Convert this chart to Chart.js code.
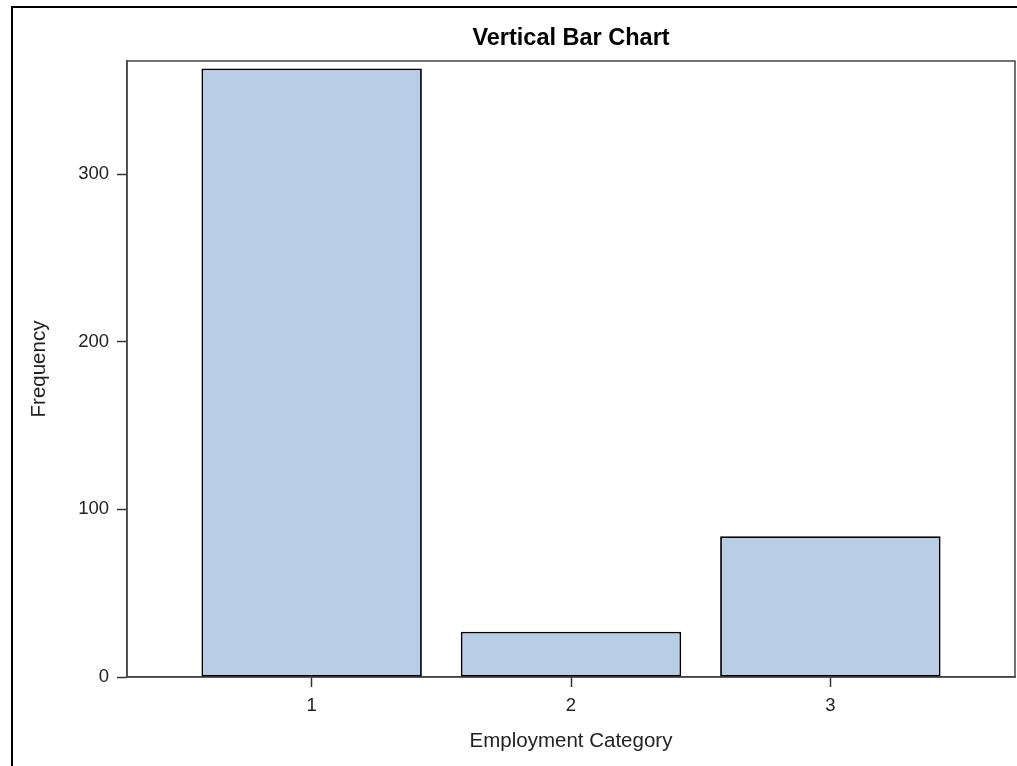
<!DOCTYPE html>
<html>
<head>
<meta charset="utf-8">
<title>Vertical Bar Chart</title>
<script src="https://cdn.jsdelivr.net/npm/chart.js@4"></script>
<style>
  html, body { margin: 0; padding: 0; background: #fff; overflow: hidden; }
  #wrap { width: 1017px; height: 766px; position: relative; }
</style>
</head>
<body>
<div id="wrap"><canvas id="chart"></canvas></div>
<script>
const chartTitle = "Vertical Bar Chart";
const categories = [1, 2, 3];
const frequencies = [363, 27, 84];
const yTicks = [0, 100, 200, 300];

const FONT = "'Liberation Sans', Arial, sans-serif";

// outer box, plot frame and the title centred over the plot area
const framePlugin = {
  id: "frames",
  beforeDraw(chart) {
    const ctx = chart.ctx;
    ctx.save();
    ctx.fillStyle = "#fff";
    ctx.fillRect(0, 0, chart.width, chart.height);
    ctx.strokeStyle = "#000";
    ctx.lineWidth = 2;
    ctx.strokeRect(12, 7, chart.width + 40, chart.height + 40);
    ctx.restore();
  },
  beforeDatasetsDraw(chart) {
    const { ctx, chartArea: a } = chart;
    ctx.save();
    ctx.strokeStyle = "#444";
    ctx.lineWidth = 1.5;
    ctx.strokeRect(a.left, a.top, a.right - a.left, a.bottom - a.top);
    ctx.restore();
  },
  afterDraw(chart) {
    const { ctx, chartArea: a } = chart;
    ctx.save();
    ctx.fillStyle = "#000";
    ctx.font = `bold 23.5px ${FONT}`;
    ctx.textAlign = "center";
    ctx.textBaseline = "middle";
    ctx.fillText(chartTitle, (a.left + a.right) / 2, 39);
    ctx.restore();
  },
};

new Chart(document.getElementById("chart"), {
  type: "bar",
  data: {
    datasets: [
      {
        label: "Frequency",
        data: categories.map((c, i) => ({ x: c, y: frequencies[i] })),
        backgroundColor: "#B8CEE6",
        borderColor: "#000",
        borderWidth: 1.8,
        borderSkipped: false,
        categoryPercentage: 1,
        barPercentage: 0.85,
      },
    ],
  },
  options: {
    responsive: true,
    maintainAspectRatio: false,
    animation: false,
    layout: { padding: { left: 0, right: 2, top: 61, bottom: 0 } },
    plugins: {
      legend: { display: false },
      tooltip: { enabled: false },
      title: { display: false },
    },
    scales: {
      x: {
        type: "linear",
        offset: false,
        min: 0.288,
        max: 3.712,
        afterBuildTicks: (axis) => {
          axis.ticks = categories.map((v) => ({ value: v }));
        },
        afterFit: (scale) => {
          scale.height = 89;
        },
        grid: {
          offset: false,
          drawOnChartArea: false,
          drawTicks: true,
          tickLength: 10,
          tickColor: "#333",
          tickWidth: 1.5,
        },
        border: { display: true, color: "#444", width: 1.5 },
        ticks: {
          color: "#222",
          padding: 8,
          font: { family: FONT, size: 18.5 },
          callback: (v) => String(v),
        },
        title: {
          display: true,
          text: "Employment Category",
          color: "#222",
          font: { family: FONT, size: 20.5 },
          padding: { top: 0, bottom: 12.7 },
        },
      },
      y: {
        min: 0,
        max: 367.4,
        afterBuildTicks: (axis) => {
          axis.ticks = yTicks.map((v) => ({ value: v }));
        },
        afterFit: (scale) => {
          scale.width = 127;
        },
        grid: {
          drawOnChartArea: false,
          drawTicks: true,
          tickLength: 10,
          tickColor: "#333",
          tickWidth: 1.5,
        },
        border: { display: true, color: "#444", width: 1.5 },
        ticks: {
          color: "#222",
          padding: 8,
          font: { family: FONT, size: 18.5 },
        },
        title: {
          display: true,
          text: "Frequency",
          color: "#222",
          font: { family: FONT, size: 20.5 },
          padding: { top: 27.2, bottom: 0 },
        },
      },
    },
  },
  plugins: [framePlugin],
});
</script>
</body>
</html>
